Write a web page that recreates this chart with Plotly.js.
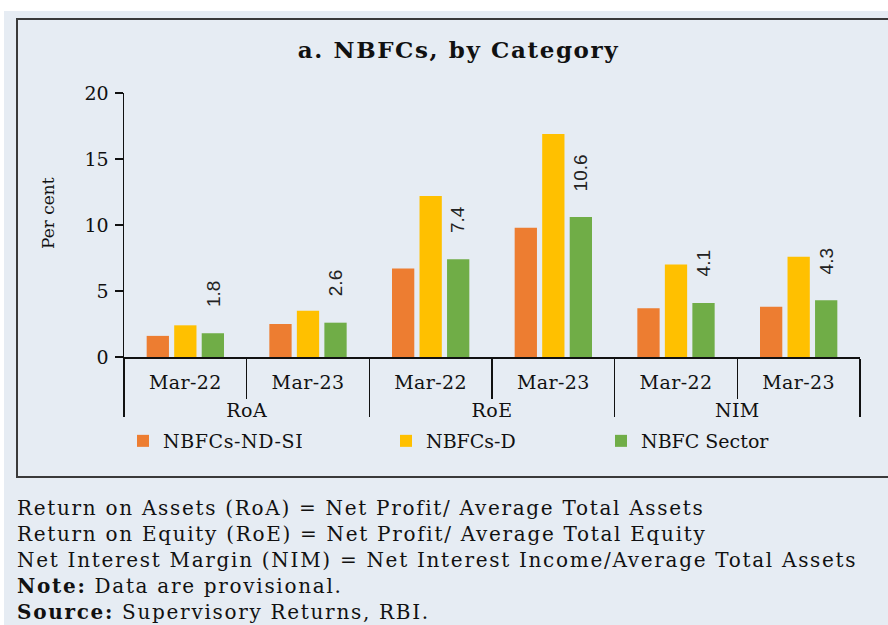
<!DOCTYPE html>
<html>
<head>
<meta charset="utf-8">
<script src="https://cdn.plot.ly/plotly-3.0.1.min.js"></script>
<style>
  html, body { margin: 0; padding: 0; background: #ffffff; }
  #chart { width: 888px; height: 625px; }
  #chart .gtitle { letter-spacing: 1.6px; }
  #chart .legendtext { letter-spacing: 0.6px; }
  #chart g.xtick text, #chart g.xtick2 text { letter-spacing: 0.4px; }
  #chart g.xtick2 text { translate: 0 12px; }
  #chart path.xdivider { transform-box: fill-box; transform-origin: top; scale: 1 1.13; }
  #chart g.annotation[data-index="6"] text { letter-spacing: 1.7px; }
</style>
</head>
<body>
<div id="chart"></div>
<script>
// ---- data ----
const metrics = ["RoA", "RoA", "RoE", "RoE", "NIM", "NIM"];
const periods = ["Mar-22", "Mar-23", "Mar-22", "Mar-23", "Mar-22", "Mar-23"];
const ndsi = [1.6, 2.5, 6.7, 9.8, 3.7, 3.8];
const deposit = [2.4, 3.5, 12.2, 16.9, 7.0, 7.6];
const sector = [1.8, 2.6, 7.4, 10.6, 4.1, 4.3];
const sectorLabels = ["1.8", "2.6", "7.4", "10.6", "4.1", "4.3"];
const seriesNames = ["NBFCs-ND-SI", "NBFCs-D", "NBFC Sector"];
const yTicks = [0, 5, 10, 15, 20];

const colors = ["#ED7D31", "#FFC000", "#70AD47"];
const serif = "DejaVu Serif";

// plot area geometry (px) used only to place decorations
const L = 124, R = 28, T = 93, B = 268, W = 888, H = 625;
const pw = W - L - R, ph = H - T - B;
const px = v => (v - L) / pw;
const py = v => (H - B - v) / ph;

const x = [metrics, periods];
const series = [ndsi, deposit, sector];
const legendIds = ["legend", "legend2", "legend3"];

const traces = series.map((vals, i) => ({
  type: "bar",
  x: x,
  y: vals,
  name: seriesNames[i],
  legend: legendIds[i],
  marker: { color: colors[i], line: { width: 0 } },
  hoverinfo: "y+name"
}));

const slotPx = pw / 6 * (1 - 0.327) / 3;
const annotations = sectorLabels.map((t, i) => ({
  xref: "x", yref: "y",
  x: i, y: sector[i],
  xshift: slotPx, yshift: 24,
  text: t, textangle: -90,
  showarrow: false,
  xanchor: "center", yanchor: "bottom",
  font: { family: "Liberation Sans", size: 19, color: "#222" }
}));

annotations.push({
  xref: "paper", yref: "paper",
  x: px(15), y: py(494),
  xanchor: "left", yanchor: "top", align: "left",
  showarrow: false,
  text: "Return on Assets (RoA) = Net Profit/ Average Total Assets<br>" +
        "Return on Equity (RoE) = Net Profit/ Average Total Equity<br>" +
        "Net Interest Margin (NIM) = Net Interest Income/Average Total Assets<br>" +
        "<b>Note:</b> Data are provisional.<br>" +
        "<b>Source:</b> Supervisory Returns, RBI.",
  font: { family: serif, size: 20, color: "#111" }
});

annotations.push({
  xref: "paper", yref: "paper",
  x: px(48), y: py(213),
  xanchor: "center", yanchor: "middle",
  showarrow: false, textangle: -90,
  text: "Per cent",
  font: { family: serif, size: 17, color: "#111" }
});

const legendBase = (xpos) => ({
  x: px(xpos), y: py(441),
  xanchor: "left", yanchor: "middle",
  orientation: "h",
  bgcolor: "rgba(0,0,0,0)",
  font: { family: serif, size: 19, color: "#111" },
  itemclick: false, itemdoubleclick: false
});

const layout = {
  width: W, height: H,
  margin: { l: L, r: R, t: T, b: B, autoexpand: false },
  paper_bgcolor: "#ffffff",
  plot_bgcolor: "rgba(0,0,0,0)",
  font: { family: serif, color: "#111" },
  title: {
    text: "<b>a. NBFCs, by Category</b>",
    xref: "container", yref: "container",
    x: 458.5 / W, y: 1 - 50 / H,
    xanchor: "center", yanchor: "middle",
    font: { family: serif, size: 23, color: "#111" }
  },
  barmode: "group",
  bargap: 0.327,
  bargroupgap: 0.19,
  xaxis: {
    type: "multicategory",
    showline: true, linecolor: "#111", linewidth: 1.5,
    ticks: "outside", tickson: "boundaries", ticklen: 40, tickwidth: 1.5, tickcolor: "#111",
    ticklabelstandoff: 8,
    showdividers: true, dividercolor: "#111", dividerwidth: 1.5,
    tickfont: { family: serif, size: 19, color: "#111" },
    showgrid: false, zeroline: false, automargin: false
  },
  yaxis: {
    range: [0, 20],
    tickvals: yTicks,
    ticktext: yTicks.map(String),
    showline: true, linecolor: "#111", linewidth: 1.5,
    ticks: "outside", ticklen: 8, tickwidth: 1.5, tickcolor: "#111",
    ticklabelstandoff: 2,
    tickfont: { family: serif, size: 19, color: "#111" },
    showgrid: false, zeroline: false, automargin: false
  },
  legend: legendBase(123),
  legend2: legendBase(386),
  legend3: legendBase(601),
  shapes: [
    { type: "rect", xref: "paper", yref: "paper", layer: "below",
      x0: px(4), x1: px(W + 2), y0: py(11), y1: py(H + 2),
      fillcolor: "#e6ecf3", line: { width: 0 } },
    { type: "rect", xref: "paper", yref: "paper", layer: "below",
      x0: px(17), x1: px(W + 10), y0: py(19), y1: py(477),
      fillcolor: "rgba(0,0,0,0)", line: { color: "#3a3a3a", width: 2 } }
  ],
  annotations: annotations,
  showlegend: true
};

Plotly.newPlot("chart", traces, layout, { displayModeBar: false, staticPlot: true });
</script>
</body>
</html>
